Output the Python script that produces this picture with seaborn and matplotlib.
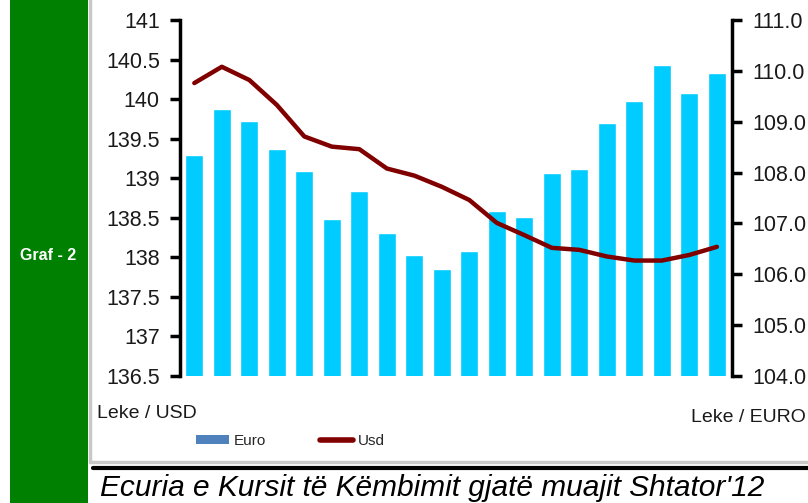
import matplotlib
matplotlib.use("Agg")
import matplotlib.pyplot as plt
import seaborn as sns
import pandas as pd
import numpy as np
from matplotlib.patches import Rectangle, Patch
from matplotlib.lines import Line2D
from matplotlib.ticker import FormatStrFormatter

days = list(range(1, 21))
euro = [139.29, 139.87, 139.72, 139.37, 139.09, 138.48, 138.84, 138.31, 138.03, 137.85,
        138.08, 138.58, 138.51, 139.07, 139.12, 139.70, 139.98, 140.43, 140.08, 140.33]
usd = [109.76, 110.08, 109.82, 109.33, 108.71, 108.51, 108.46, 108.08, 107.94, 107.72,
       107.46, 107.01, 106.77, 106.52, 106.48, 106.35, 106.27, 106.27, 106.38, 106.54]
left_ticks = [136.5, 137, 137.5, 138, 138.5, 139, 139.5, 140, 140.5, 141]
right_ticks = [104.0, 105.0, 106.0, 107.0, 108.0, 109.0, 110.0, 111.0]

df = pd.DataFrame({"day": days, "euro": euro, "usd": usd})
df["pos"] = range(len(df))

sns.set_style("white")
plt.rcParams["font.family"] = ["Liberation Sans", "DejaVu Sans"]

W, H = 808, 503
fig = plt.figure(figsize=(W / 100, H / 100), dpi=100)
fig.patch.set_facecolor("white")

ax = fig.add_axes([180 / W, 1 - 376 / H, (732 - 180) / W, (376 - 20) / H])
sns.barplot(data=df, x="pos", y="euro", color="#00CCFF", saturation=1,
            width=0.66, ax=ax, zorder=2)
ax.set_ylim(136.5, 141)
ax.set_xlim(-0.52, 19.55)
ax.set_yticks(left_ticks)
ax.set_yticklabels([f"{t:g}" for t in left_ticks])
ax.set_xticks([])
ax.set_xlabel("")
ax.set_ylabel("")
for s in ["top", "bottom", "right"]:
    ax.spines[s].set_visible(False)
ax.spines["left"].set_linewidth(2.5)
ax.spines["left"].set_color("black")
ax.tick_params(axis="y", direction="out", length=7, width=2.5, color="black",
               labelsize=15.5, pad=7.5)

ax2 = ax.twinx()
sns.lineplot(data=df, x="pos", y="usd", color="#800000", linewidth=3.2, ax=ax2,
             zorder=3)
ax2.set_ylim(104, 111)
ax2.set_yticks(right_ticks)
ax2.yaxis.set_major_formatter(FormatStrFormatter("%.1f"))
ax2.set_xlim(-0.52, 19.55)
ax2.set_ylabel("")
ax2.set_xlabel("")
for s in ["top", "bottom", "left"]:
    ax2.spines[s].set_visible(False)
ax2.spines["right"].set_linewidth(2.5)
ax2.spines["right"].set_color("black")
ax2.tick_params(axis="y", direction="out", length=7, width=2.5, color="black",
                labelsize=15.5, pad=8)
for lab in ax.get_yticklabels() + ax2.get_yticklabels():
    lab.set_color("#1a1a1a")

# Green side band
fig.add_artist(Rectangle((10 / W, 0), 78 / W, 1, transform=fig.transFigure,
                         facecolor="#008000", edgecolor="none", zorder=0))
fig.text(48 / W, 1 - 255 / H, "Graf - 2", color="white", fontsize=11.5,
         fontweight="bold", ha="center", va="center")
# Grey frame
fig.add_artist(Line2D([90 / W, 90 / W], [1 - 462 / H, 1], transform=fig.transFigure,
                      color="#c8c8c8", linewidth=2.5))
fig.add_artist(Line2D([90 / W, 1], [1 - 462 / H, 1 - 462 / H], transform=fig.transFigure,
                      color="#c8c8c8", linewidth=2.5))
# Black line
fig.add_artist(Line2D([93 / W, 1], [1 - 467.5 / H, 1 - 467.5 / H], transform=fig.transFigure,
                      color="black", linewidth=3))

fig.text(97 / W, 1 - 414 / H, "Leke / USD", fontsize=14, ha="left", va="center",
         color="#1a1a1a")
fig.text(806 / W, 1 - 418 / H, "Leke / EURO", fontsize=14, ha="right", va="center",
         color="#1a1a1a")

handles = [Patch(facecolor="#4F81BD", edgecolor="none"),
           Line2D([0], [0], color="#800000", linewidth=4, solid_capstyle="round")]
fig.legend(handles, ["Euro", "Usd"], loc="center left",
           bbox_to_anchor=(182 / W, 1 - 441 / H), ncol=2, frameon=False,
           prop={"size": 11},
           handlelength=2.2, handleheight=0.6, handletextpad=0.3, columnspacing=3.5)

fig.text(100 / W, 1 - 488 / H, "Ecuria e Kursit të Këmbimit gjatë muajit Shtator'12",
         fontsize=21.5, style="italic", ha="left", va="center", color="black")

fig.savefig("out.png", dpi=100)
